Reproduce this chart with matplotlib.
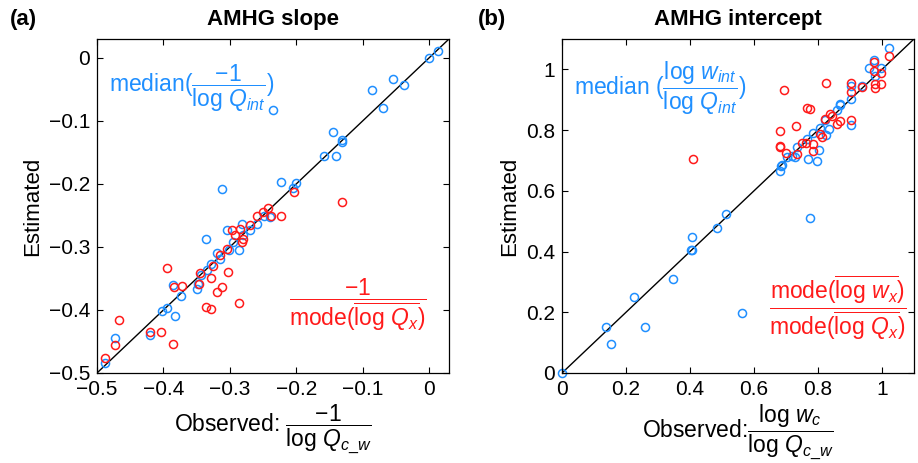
import matplotlib
matplotlib.use('Agg')
import matplotlib.pyplot as plt

plt.rcParams['font.family'] = ['Liberation Sans', 'DejaVu Sans']
plt.rcParams['mathtext.fontset'] = 'custom'
plt.rcParams['mathtext.rm'] = 'Liberation Sans'
plt.rcParams['mathtext.it'] = 'Liberation Sans:italic'
plt.rcParams['mathtext.bf'] = 'Liberation Sans:bold'

BLUE = '#1f8fff'
RED = '#ff1a1a'

# panel (a): AMHG slope
slope_blue_obs = [0.014, 0.0, -0.054, -0.038, -0.086, -0.07, -0.2345, -0.144, -0.131, -0.131,
                  -0.158, -0.14, -0.2237, -0.2, -0.2042, -0.3117, -0.2391, -0.249, -0.2592,
                  -0.2817, -0.2702, -0.3042, -0.2802, -0.2952, -0.2862, -0.3012, -0.3366,
                  -0.3192, -0.3141, -0.3276, -0.3351, -0.3441, -0.3477, -0.3492, -0.3852,
                  -0.3736, -0.4025, -0.3941, -0.3826, -0.42, -0.4725, -0.488]
slope_blue_est = [0.0105, 0.0, -0.033, -0.043, -0.0505, -0.08, -0.082, -0.117, -0.133, -0.131,
                  -0.156, -0.155, -0.1975, -0.199, -0.2064, -0.208, -0.2517, -0.251, -0.2643,
                  -0.2632, -0.2738, -0.2738, -0.2817, -0.2922, -0.3054, -0.3054, -0.2869,
                  -0.3096, -0.3185, -0.3264, -0.3359, -0.3449, -0.358, -0.367, -0.3607,
                  -0.378, -0.4017, -0.3975, -0.4092, -0.44, -0.445, -0.484]
slope_red_obs = [-0.2027, -0.131, -0.2237, -0.2427, -0.2502, -0.2586, -0.2385, -0.2702, -0.2841,
                 -0.2961, -0.2916, -0.2802, -0.2811, -0.3042, -0.3141, -0.3951, -0.3836, -0.3726,
                 -0.3451, -0.3462, -0.3286, -0.3252, -0.3027, -0.3117, -0.3192, -0.3361, -0.3286,
                 -0.2867, -0.467, -0.473, -0.42, -0.403, -0.385, -0.488]
slope_red_est = [-0.2133, -0.228, -0.2501, -0.2379, -0.2449, -0.2501, -0.2516, -0.2659, -0.2711,
                 -0.2727, -0.2806, -0.2869, -0.2922, -0.3027, -0.3133, -0.3333, -0.3633, -0.3618,
                 -0.3406, -0.358, -0.3491, -0.3306, -0.3396, -0.3633, -0.3712, -0.3949, -0.3986,
                 -0.3896, -0.416, -0.455, -0.435, -0.4347, -0.454, -0.476]

# panel (b): AMHG intercept
int_blue_obs = [0.0, 0.1375, 0.153, 0.225, 0.258, 0.348, 0.405, 0.403, 0.407, 0.485, 0.512, 0.562,
                0.775, 0.682, 0.684, 0.689, 0.703, 0.729, 0.734, 0.77, 0.798, 0.804, 0.767, 0.783,
                0.806, 0.825, 0.835, 0.822, 0.858, 0.87, 0.902, 0.902, 0.902, 0.939, 0.959, 0.975,
                0.977, 0.997, 1.023, 0.868, 0.718]
int_blue_est = [0.0, 0.151, 0.096, 0.251, 0.152, 0.311, 0.447, 0.405, 0.405, 0.4775, 0.5246, 0.198,
                0.5115, 0.666, 0.683, 0.686, 0.71, 0.712, 0.743, 0.704, 0.697, 0.736, 0.77, 0.789,
                0.808, 0.784, 0.803, 0.832, 0.866, 0.885, 0.816, 0.901, 0.945, 0.945, 1.005, 1.03,
                0.978, 1.003, 1.071, 0.883, 0.714]
int_red_obs = [0.408, 0.693, 0.825, 0.902, 0.902, 0.975, 1.023, 0.974, 0.997, 0.997, 0.977, 0.939,
               0.767, 0.775, 0.732, 0.682, 0.682, 0.682, 0.7, 0.734, 0.75, 0.764, 0.785, 0.785,
               0.806, 0.811, 0.822, 0.836, 0.845, 0.858, 0.87, 0.902, 0.977]
int_red_est = [0.705, 0.931, 0.954, 0.956, 0.927, 1.025, 1.044, 0.994, 0.989, 0.953, 0.951, 0.942,
               0.874, 0.868, 0.814, 0.797, 0.748, 0.743, 0.723, 0.72, 0.756, 0.757, 0.754, 0.732,
               0.786, 0.778, 0.836, 0.854, 0.847, 0.821, 0.83, 0.832, 0.94]

slope_ticks = [-0.5, -0.4, -0.3, -0.2, -0.1, 0]
slope_ticklabels = ['\u22120.5', '\u22120.4', '\u22120.3', '\u22120.2', '\u22120.1', '0']
int_ticks = [0, 0.2, 0.4, 0.6, 0.8, 1.0]
int_ticklabels = ['0', '0.2', '0.4', '0.6', '0.8', '1']

fig = plt.figure(figsize=(9.18, 4.63), dpi=100)
ax1 = fig.add_axes([97 / 918, 1 - 373 / 463, 352 / 918, 334 / 463])
ax2 = fig.add_axes([562 / 918, 1 - 373 / 463, 352 / 918, 334 / 463])


def style(ax, lims, ticks, labels):
    ax.set_xlim(lims)
    ax.set_ylim(lims)
    ax.set_xticks(ticks)
    ax.set_yticks(ticks)
    ax.set_xticklabels(labels)
    ax.set_yticklabels(labels)
    ax.tick_params(direction='in', top=True, right=True, length=4, width=0.8,
                   labelsize=15, pad=5)
    for s in ax.spines.values():
        s.set_linewidth(0.9)
    ax.set_ylabel('Estimated', fontsize=16, labelpad=4)


mk = dict(marker='o', ms=5.8, mfc='none', mew=1.1, ls='none')

ax1.plot([-0.6, 0.1], [-0.6, 0.1], color='k', lw=1)
ax1.plot(slope_blue_obs, slope_blue_est, color=BLUE, **mk)
ax1.plot(slope_red_obs, slope_red_est, color=RED, **mk)
style(ax1, (-0.5, 0.03), slope_ticks, slope_ticklabels)
ax1.set_title('AMHG slope', fontsize=16, fontweight='bold', pad=10)
ax1.set_xlabel(r'Observed: $\dfrac{-1}{\mathrm{log}\ Q_{c\_w}}$', fontsize=16.5, labelpad=2)
ax1.text(0.035, 0.852, r'median$(\dfrac{-1}{\mathrm{log}\ Q_{int}})$', transform=ax1.transAxes,
         color=BLUE, fontsize=16.5, va='center', ha='left')
ax1.text(0.74, 0.205, r'$\dfrac{-1}{\mathrm{mode}(\overline{\mathrm{log}\ Q_x})}$',
         transform=ax1.transAxes, color=RED, fontsize=16.5, va='center', ha='center')

ax2.plot([-0.1, 1.2], [-0.1, 1.2], color='k', lw=1)
ax2.plot(int_blue_obs, int_blue_est, color=BLUE, clip_on=False, **mk)
ax2.plot(int_red_obs, int_red_est, color=RED, **mk)
style(ax2, (0, 1.1), int_ticks, int_ticklabels)
ax2.set_title('AMHG intercept', fontsize=16, fontweight='bold', pad=10)
ax2.set_xlabel(r'Observed:$\dfrac{\mathrm{log}\ w_c}{\mathrm{log}\ Q_{c\_w}}$', fontsize=16.5, labelpad=2)
ax2.text(0.035, 0.852, r'median $(\dfrac{\mathrm{log}\ w_{int}}{\mathrm{log}\ Q_{int}})$',
         transform=ax2.transAxes, color=BLUE, fontsize=16.5, va='center', ha='left')
ax2.text(0.785, 0.195,
         r'$\dfrac{\mathrm{mode}(\overline{\mathrm{log}\ w_x})}{\mathrm{mode}(\overline{\mathrm{log}\ Q_x})}$',
         transform=ax2.transAxes, color=RED, fontsize=16.5, va='center', ha='center')

fig.text(10 / 918, 1 - 20 / 463, '(a)', fontsize=16, fontweight='bold', va='center')
fig.text(478 / 918, 1 - 20 / 463, '(b)', fontsize=16, fontweight='bold', va='center')

fig.savefig('out.png', dpi=100)
